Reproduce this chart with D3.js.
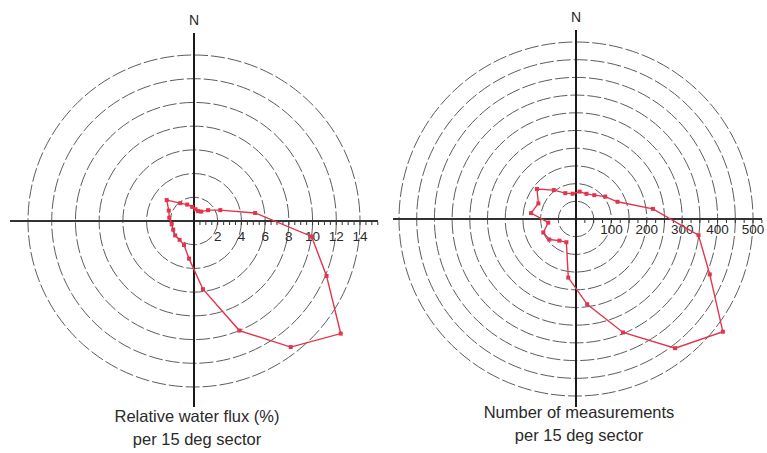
<!DOCTYPE html>
<html>
<head>
<meta charset="utf-8">
<script src="https://cdn.jsdelivr.net/npm/d3@7"></script>
<style>
  html, body { margin: 0; padding: 0; background: #fff; }
  svg { display: block; }
  text { font-family: "Liberation Sans", Arial, sans-serif; fill: #2a2a2a; }
</style>
</head>
<body>
<svg id="chart" width="767" height="453"></svg>
<script>
// Sector centre directions (degrees clockwise from North)
const sectorAngles = [7.5, 22.5, 37.5, 52.5, 67.5, 82.5, 97.5, 112.5, 127.5, 142.5, 157.5, 172.5,
                      187.5, 202.5, 217.5, 232.5, 247.5, 262.5, 277.5, 292.5, 307.5, 322.5, 337.5, 352.5];
// Relative water flux (%) per 15 deg sector
const fluxValues = [1.0, 0.9, 1.0, 1.5, 2.4, 5.2, 10.0, 12.1, 15.6, 13.4, 10.0, 5.8,
                    3.2, 2.2, 2.0, 2.0, 1.9, 1.9, 2.1, 2.3, 2.9, 1.9, 1.5, 1.2];
// Number of measurements per 15 deg sector
const countValues = [78, 77, 85, 104, 127, 219, 349, 409, 523, 460, 347, 243,
                     167, 71, 77, 95, 100, 79, 128, 115, 139, 103, 79, 72];
// Ring values and tick labels
const fluxRings = [2, 4, 6, 8, 10, 12, 14];
const fluxTickLabels = ["2", "4", "6", "8", "10", "12", "14"];
const countRings = [50, 100, 150, 200, 250, 300, 350, 400, 450, 500];
const countTickLabels = ["100", "200", "300", "400", "500"];
const titleLeft = ["Relative water flux (%)", "per 15 deg sector"];
const titleRight = ["Number of measurements", "per 15 deg sector"];

const svg = d3.select("#chart");
const red = "#e2344c";

function rose(cfg) {
  const g = svg.append("g").attr("transform", `translate(${cfg.cx},${cfg.cy})`);
  const r = d3.scaleLinear().domain([0, cfg.maxVal]).range([0, cfg.maxR]);

  // dashed rings
  g.selectAll("circle.ring").data(cfg.rings).join("circle")
    .attr("class", "ring")
    .attr("r", d => r(d))
    .attr("fill", "none")
    .attr("stroke", "#4a4a4a")
    .attr("stroke-width", 0.9)
    .attr("stroke-dasharray", "14 3");

  // axes
  g.append("line").attr("x1", -cfg.axLeft).attr("x2", cfg.axRight).attr("y1", 0).attr("y2", 0)
    .attr("stroke", "#333").attr("stroke-width", 2);
  g.append("line").attr("x1", 0).attr("x2", 0).attr("y1", -cfg.axTop).attr("y2", cfg.axBottom)
    .attr("stroke", "#1a1a1a").attr("stroke-width", 2);

  // minor ticks on the east axis
  const tickVals = d3.range(cfg.tickStep, cfg.tickMax + 1e-9, cfg.tickStep);
  g.selectAll("line.tick").data(tickVals).join("line")
    .attr("class", "tick")
    .attr("x1", d => r(d)).attr("x2", d => r(d))
    .attr("y1", 1).attr("y2", 4)
    .attr("stroke", "#333").attr("stroke-width", 1);

  // tick labels
  g.selectAll("text.tl").data(cfg.labels).join("text")
    .attr("class", "tl")
    .attr("x", d => r(+d))
    .attr("y", cfg.labelY)
    .attr("text-anchor", "middle")
    .attr("dominant-baseline", "middle")
    .attr("font-size", 13.5)
    .text(d => d);

  // N label
  g.append("text").attr("x", 0).attr("y", -cfg.axTop - 12)
    .attr("text-anchor", "middle").attr("dominant-baseline", "middle")
    .attr("font-size", 14).text("N");

  // data polygon
  const pts = cfg.angles.map((a, i) => [a * Math.PI / 180, r(cfg.values[i])]);
  const line = d3.lineRadial().angle(d => d[0]).radius(d => d[1]).curve(d3.curveLinearClosed);
  g.append("path").attr("d", line(pts))
    .attr("fill", "none").attr("stroke", red).attr("stroke-width", 1.4);
  g.selectAll("rect.pt").data(pts).join("rect")
    .attr("class", "pt")
    .attr("x", d => (Math.sin(d[0]) * d[1]) - 2)
    .attr("y", d => (-Math.cos(d[0]) * d[1]) - 2)
    .attr("width", 4).attr("height", 4)
    .attr("fill", red);

  // title
  svg.append("g").selectAll("text").data(cfg.title).join("text")
    .attr("x", cfg.titleX)
    .attr("y", (d, i) => cfg.titleY + i * 23)
    .attr("text-anchor", "middle")
    .attr("dominant-baseline", "middle")
    .attr("font-size", 16.5)
    .text(d => d);
}

rose({
  cx: 194, cy: 221, maxVal: 14, maxR: 166, rings: fluxRings,
  axLeft: 184, axRight: 184, axTop: 188, axBottom: 186,
  tickStep: 0.5, tickMax: 15.5, labels: fluxTickLabels, labelY: 16,
  angles: sectorAngles, values: fluxValues,
  title: titleLeft, titleX: 197, titleY: 418
});

rose({
  cx: 576, cy: 219, maxVal: 500, maxR: 177, rings: countRings,
  axLeft: 183, axRight: 186, axTop: 189, axBottom: 188,
  tickStep: 25, tickMax: 525, labels: countTickLabels, labelY: 11,
  angles: sectorAngles, values: countValues,
  title: titleRight, titleX: 579, titleY: 414
});
</script>
</body>
</html>
